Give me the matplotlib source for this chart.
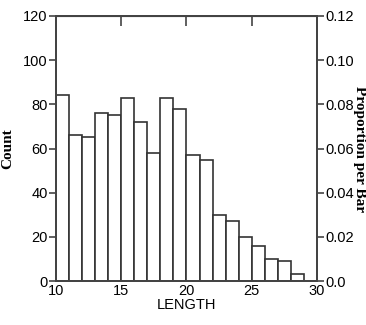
import numpy as np
import matplotlib.pyplot as plt

bin_left = [10, 11, 12, 13, 14, 15, 16, 17, 18, 19, 20, 21, 22, 23, 24, 25, 26, 27, 28]
counts = [84, 66, 65, 76, 75, 83, 72, 58, 83, 78, 57, 55, 30, 27, 20, 16, 10, 9, 3]
count_ticks = [0, 20, 40, 60, 80, 100, 120]
prop_ticks = [0.0, 0.02, 0.04, 0.06, 0.08, 0.10, 0.12]
prop_labels = ['0.0', '0.02', '0.04', '0.06', '0.08', '0.10', '0.12']
x_ticks = [10, 15, 20, 25, 30]
n_total = 1000

plt.rcParams['font.family'] = ['Liberation Sans', 'DejaVu Sans']
edge = '#444444'

fig = plt.figure(figsize=(3.66, 3.25), dpi=100)
ax = fig.add_axes([0.153, 0.135, 0.713, 0.816])
ax.bar(bin_left, counts, width=1, align='edge', color='white', edgecolor='#333333', linewidth=1.2)
ax.set_xlim(10, 30)
ax.set_ylim(0, 120)
ax.set_xticks(x_ticks)
ax.set_yticks(count_ticks)
ax.tick_params(axis='y', direction='out', length=5, width=1.2, color=edge, labelsize=10.5, pad=1)
ax.tick_params(axis='x', direction='in', length=0, labelsize=10.5, pad=2, top=True, labeltop=False)
for s in ax.spines.values():
    s.set_color(edge)
    s.set_linewidth(1.4)
ax.set_xlabel('LENGTH', fontsize=10.5, labelpad=0)
ax.set_ylabel('Count', family='Liberation Serif', fontweight='bold', fontsize=11, labelpad=6)

# top inward ticks
top = ax.secondary_xaxis('top')
top.set_xticks([15, 20, 25])
top.tick_params(direction='in', length=7, width=1.2, color=edge, labeltop=False)
top.set_xticklabels([])

ax2 = ax.twinx()
ax2.set_ylim(0, 120 / n_total)
ax2.set_yticks(prop_ticks)
ax2.set_yticklabels(prop_labels)
ax2.tick_params(axis='y', direction='out', length=5, width=1.2, color=edge, labelsize=10.5, pad=1)
for s in ax2.spines.values():
    s.set_color(edge)
    s.set_linewidth(1.4)
fig.text(0.982, 0.54, 'Proportion per Bar', rotation=270, family='Liberation Serif',
         fontweight='bold', fontsize=11, ha='center', va='center')

fig.savefig('out.png', dpi=100)
